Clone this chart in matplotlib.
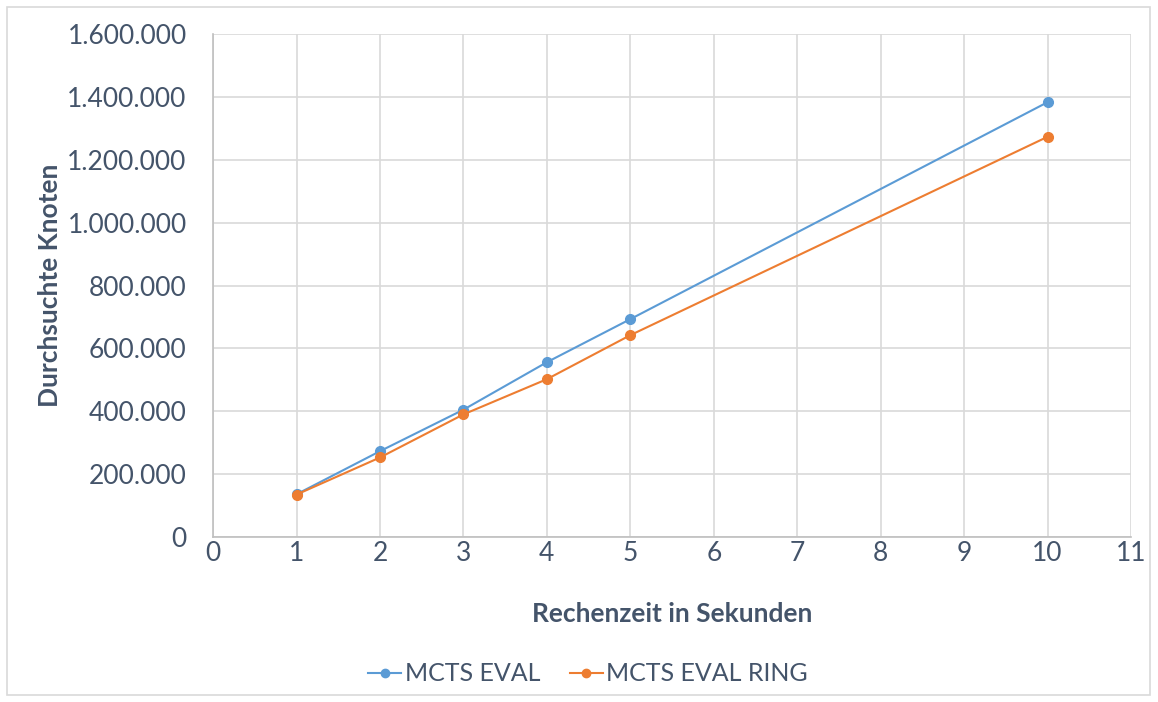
import matplotlib.pyplot as plt
from matplotlib.patches import Rectangle
from matplotlib.ticker import FuncFormatter, MultipleLocator

plt.rcParams['font.family'] = ['Lato', 'DejaVu Sans']

# Rechenzeit (s) und durchsuchte Knoten je Variante
zeit = [1, 2, 3, 4, 5, 10]
mcts_eval = [136000, 273000, 405000, 556000, 693000, 1383000]
mcts_eval_ring = [135000, 253000, 390000, 502000, 642000, 1273000]

text_farbe = '#44546A'
grid_farbe = '#D9D9D9'

fig = plt.figure(figsize=(11.58, 7.02), dpi=100)
ax = fig.add_axes([0.184, 0.235, 0.7927, 0.7166])

ax.plot(zeit, mcts_eval, color='#5B9BD5', lw=1.5, marker='o', ms=7,
        label='MCTS EVAL', zorder=3)
ax.plot(zeit, mcts_eval_ring, color='#ED7D31', lw=1.5, marker='o', ms=7,
        label='MCTS EVAL RING', zorder=3)

ax.set_xlim(0, 11)
ax.set_ylim(0, 1600000)
ax.xaxis.set_major_locator(MultipleLocator(1))
ax.yaxis.set_major_locator(MultipleLocator(200000))
ax.yaxis.set_major_formatter(FuncFormatter(lambda v, p: f'{int(v):,}'.replace(',', '.')))

ax.grid(True, color=grid_farbe, lw=1.2)
ax.set_axisbelow(True)
for s in ['top', 'right']:
    ax.spines[s].set_visible(False)
for s in ['left', 'bottom']:
    ax.spines[s].set_color('#BFBFBF')
    ax.spines[s].set_linewidth(1.2)
ax.tick_params(length=0, labelsize=19, labelcolor=text_farbe)
ax.tick_params(axis='y', pad=19)
ax.tick_params(axis='x', pad=3)

ax.set_xlabel('Rechenzeit in Sekunden', fontsize=19, fontweight='bold',
              color=text_farbe, labelpad=26)
ax.set_ylabel('Durchsuchte Knoten', fontsize=19, fontweight='bold',
              color=text_farbe, labelpad=4)

leg = fig.legend(loc='center', bbox_to_anchor=(0.508, 0.04), ncol=2,
                 frameon=False, fontsize=18, handlelength=1.3,
                 columnspacing=1.2, handletextpad=0.15)
for t in leg.get_texts():
    t.set_color(text_farbe)
for h in leg.legend_handles:
    h.set_markersize(6)

# Rahmen um das Diagramm
fig.patches.append(Rectangle((0.006, 0.01), 0.987, 0.98, transform=fig.transFigure,
                             fill=False, edgecolor=grid_farbe, lw=1.2))

fig.savefig('out.png', dpi=100)
